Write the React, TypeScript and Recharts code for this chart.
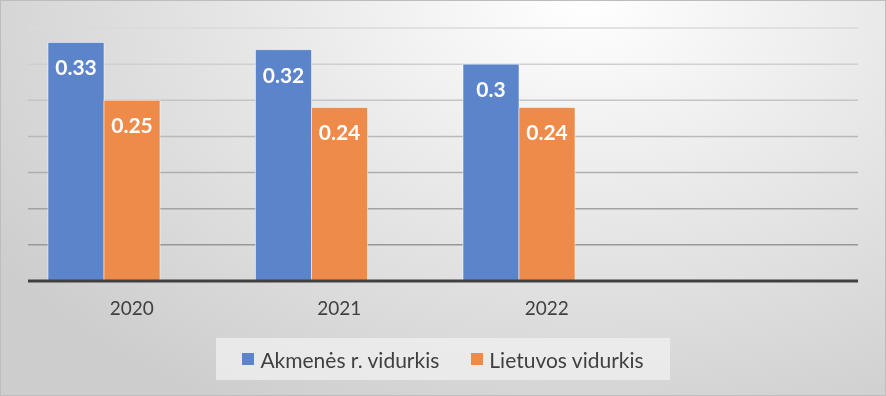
import React from 'react';
import { BarChart, Bar, XAxis, YAxis, CartesianGrid, Legend, LabelList } from 'recharts';

const years = ['2020', '2021', '2022', ''];
const akmeneValues = [0.33, 0.32, 0.3, null];
const lietuvaValues = [0.25, 0.24, 0.24, null];
const yTicks = [0, 0.05, 0.1, 0.15, 0.2, 0.25, 0.3, 0.35];

const data = years.map((year, i) => ({
  year,
  akmene: akmeneValues[i],
  lietuva: lietuvaValues[i],
  empty: null,
}));

const FONT = 'Lato, "Open Sans", sans-serif';

const LegendBox = () => (
  <div
    style={{
      width: 454,
      height: 42,
      background: 'rgba(240,240,240,0.75)',
      display: 'flex',
      alignItems: 'center',
      justifyContent: 'center',
      gap: 32,
      fontFamily: FONT,
      fontSize: 21,
      color: '#404040',
    }}
  >
    <span style={{ display: 'flex', alignItems: 'center' }}>
      <span style={{ width: 12, height: 12, background: '#5b84cb', marginRight: 6 }} />
      Akmenės r. vidurkis
    </span>
    <span style={{ display: 'flex', alignItems: 'center' }}>
      <span style={{ width: 12, height: 12, background: '#ee8b4a', marginRight: 6 }} />
      Lietuvos vidurkis
    </span>
  </div>
);

export default function App() {
  return (
    <div
      style={{
        position: 'fixed',
        top: 0,
        left: 0,
        width: 886,
        height: 396,
        boxSizing: 'border-box',
        border: '1px solid #bdbdbd',
        background: 'radial-gradient(ellipse 80% 120% at 66% 0%, #ffffff 0%, #e8e8e8 45%, #cdcdcd 100%)',
      }}
    >
      <BarChart
        width={884}
        height={394}
        data={data}
        margin={{ top: 27, right: 27, left: 27, bottom: 42 }}
        barCategoryGap={20}
        barGap={0}
      >
        <defs>
          <linearGradient id="gridGrad" x1="0" y1="28" x2="0" y2="281" gradientUnits="userSpaceOnUse">
            <stop offset="0%" stopColor="#dadada" />
            <stop offset="100%" stopColor="#8c8c8c" />
          </linearGradient>
        </defs>
        <CartesianGrid vertical={false} stroke="url(#gridGrad)" strokeWidth={1.5} />
        <YAxis hide domain={[0, 0.35]} ticks={yTicks} />
        <XAxis
          dataKey="year"
          axisLine={{ stroke: '#404040', strokeWidth: 3 }}
          tickLine={false}
          height={30}
          tick={{ fill: '#404040', fontSize: 19, fontFamily: FONT }}
          dy={13}
        />
        <Legend
          verticalAlign="bottom"
          content={() => <LegendBox />}
          wrapperStyle={{ top: 337, left: 215, width: 454, height: 42 }}
        />
        <Bar dataKey="akmene" fill="#5b84cb" stroke="rgba(255,255,255,0.5)" isAnimationActive={false}>
          <LabelList
            dataKey="akmene"
            position="insideTop"
            offset={18}
            fill="#ffffff"
            style={{ fontFamily: FONT, fontSize: 21, fontWeight: 700 }}
          />
        </Bar>
        <Bar dataKey="lietuva" fill="#ee8b4a" stroke="rgba(255,255,255,0.5)" isAnimationActive={false}>
          <LabelList
            dataKey="lietuva"
            position="insideTop"
            offset={18}
            fill="#ffffff"
            style={{ fontFamily: FONT, fontSize: 21, fontWeight: 700 }}
          />
        </Bar>
        <Bar dataKey="empty" fill="#a5a5a5" legendType="none" isAnimationActive={false} />
      </BarChart>
    </div>
  );
}
